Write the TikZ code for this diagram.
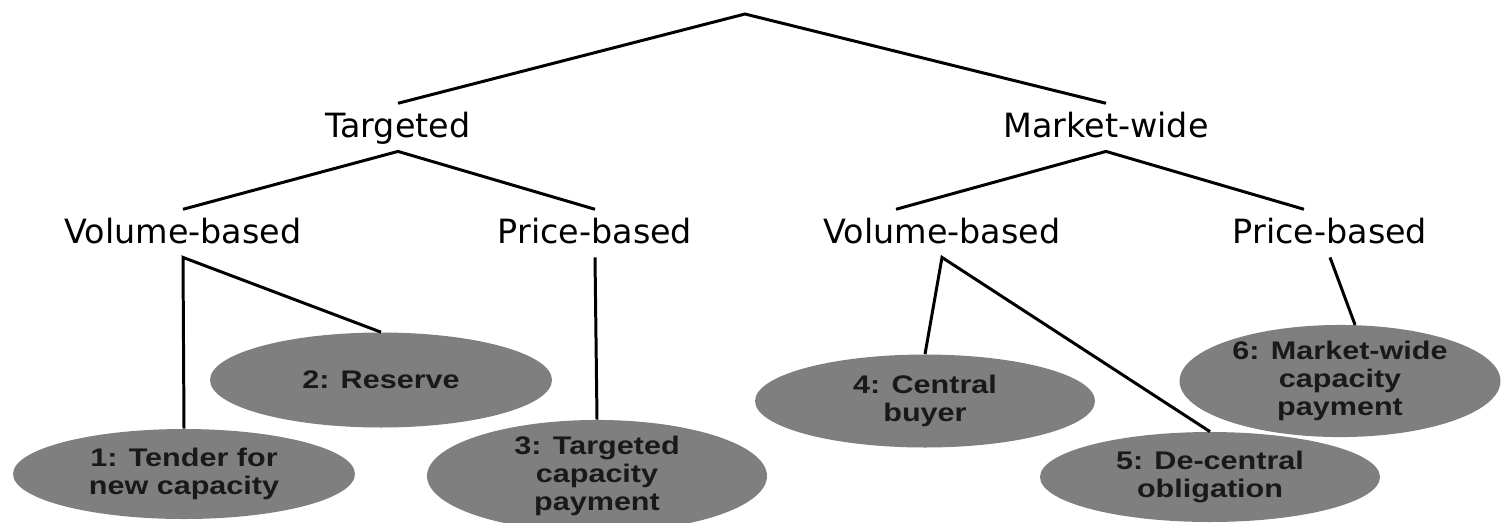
\documentclass[tikz,border=0pt]{standalone}
\usepackage{fontspec}
\usetikzlibrary{shapes.geometric}
\usetikzlibrary{calc}
\newfontfamily\levelfont{DejaVu Sans}
\newfontfamily\ovalfont[FakeStretch=1.2]{Liberation Sans}
\definecolor{ovalgray}{RGB}{127,127,127}
\tikzset{
  lvl/.style={anchor=base, inner xsep=2pt, inner ysep=3pt, text height=16pt, text depth=5pt,
    font=\levelfont\fontsize{19}{22}\selectfont},
  oval/.style={ellipse, fill=ovalgray, inner sep=0pt, align=center, text=black!90,
    font=\ovalfont\bfseries\fontsize{14.5}{15.8}\selectfont},
  branch/.style={line width=1.7pt}
}

\begin{document}
\begin{tikzpicture}[x=0.02cm, y=-0.02cm]
            \useasboundingbox (0,0) rectangle (1503,522);
            \coordinate (top) at (745,14);
            \node[lvl] (tgt) at (398,137) {Targeted};
            \node[lvl] (mkt) at (1106,137) {Market-wide};
            \node[lvl] (tvol) at (183,243) {Volume-based};
            \node[lvl] (tprc) at (595,243) {Price-based};
            \node[lvl] (mvol) at (942,243) {Volume-based};
            \node[lvl] (mprc) at (1330,243) {Price-based};
            \node[oval, minimum width=6.84cm, minimum height=1.8cm] (tender) at (184,474) {1: Tender for\\new capacity};
            \node[oval, minimum width=6.84cm, minimum height=1.9cm] (reserve) at (381,380) {2: Reserve};
            \node[oval, minimum width=6.8cm, minimum height=1.84cm] (tpay) at (597,476) {3: Targeted\\capacity\\payment};
            \node[oval, minimum width=6.8cm, minimum height=1.86cm] (buyer) at (925,401) {4: Central\\buyer};
            \node[oval, minimum width=6.8cm, minimum height=1.8cm] (oblig) at (1210,477) {5: De-central\\obligation};
            \node[oval, minimum width=6.42cm, minimum height=1.84cm] (mpay) at (1340,381) {6: Market-wide\\capacity\\payment};
            \draw[branch] (tgt.north) -- (top) -- (mkt.north);
            \draw[branch] (tvol.north) -- (tgt.south) -- (tprc.north);
            \draw[branch] ($(mvol.north)+(-46,0)$) -- (mkt.south) -- ($(mprc.north)+(-26,0)$);
            \draw[branch] (tender.north) -- (tvol.south) -- (reserve.north);
            \draw[branch] (tprc.south) -- (tpay.north);
            \draw[branch] (buyer.north) -- (mvol.south) -- (oblig.north);
            \draw[branch] (mprc.south) -- (mpay.75);
        \end{tikzpicture}
\end{document}
